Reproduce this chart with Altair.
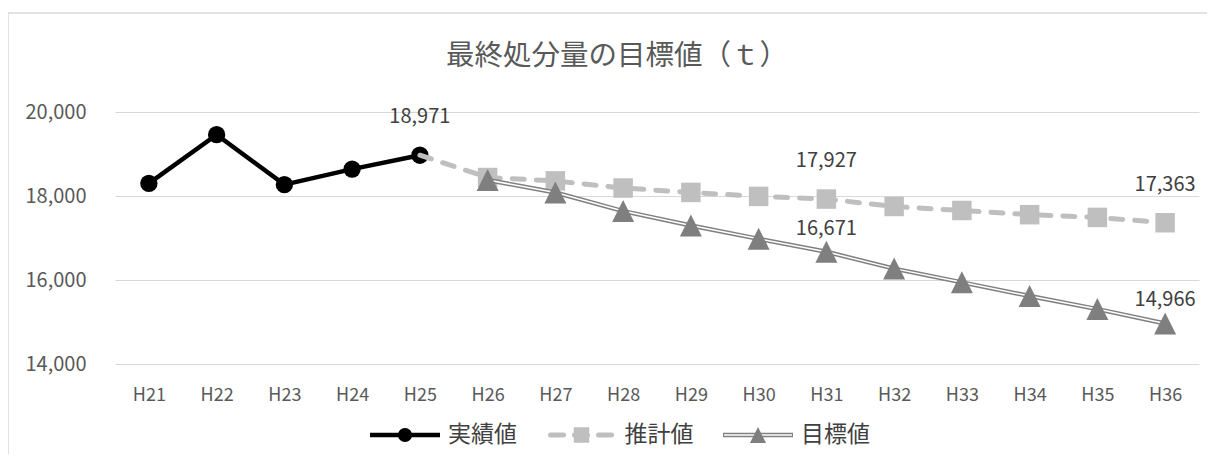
import altair as alt
import pandas as pd

# ---- data ----
CATEGORIES = ["H21", "H22", "H23", "H24", "H25", "H26", "H27", "H28",
              "H29", "H30", "H31", "H32", "H33", "H34", "H35", "H36"]
ACTUAL = [18300, 19460, 18270, 18640, 18971,
          None, None, None, None, None, None, None, None, None, None, None]
ESTIMATE = [None, None, None, None, 18971, 18440, 18360, 18190,
            18085, 17990, 17927, 17750, 17655, 17555, 17490, 17363]
TARGET = [None, None, None, None, None, 18381, 18083, 17641,
          17299, 16980, 16671, 16271, 15944, 15618, 15307, 14966]
SERIES_NAMES = ["実績値", "推計値", "目標値"]
LABELLED = [("実績値", "H25"), ("推計値", "H31"), ("推計値", "H36"),
            ("目標値", "H31"), ("目標値", "H36")]
Y_TICKS = [14000, 16000, 18000, 20000]
TITLE = "最終処分量の目標値（ｔ）"

# ---- layout / style ----
W, H = 1084, 252
FONT = "Noto Sans CJK JP"
TRI = "M0,-1L1,1L-1,1Z"


def series_df(name, values):
    return pd.DataFrame({"cat": CATEGORIES, "value": values, "series": name}).dropna()


act = series_df(SERIES_NAMES[0], ACTUAL)
est = series_df(SERIES_NAMES[1], ESTIMATE)
tgt = series_df(SERIES_NAMES[2], TARGET)
allpts = pd.concat([act, est, tgt])
lab = pd.concat([allpts[(allpts.series == s) & (allpts.cat == c)] for s, c in LABELLED])
lab_sq = lab[lab.series != SERIES_NAMES[2]]
lab_tri = lab[lab.series == SERIES_NAMES[2]]

x_enc = alt.X("cat:N", sort=CATEGORIES,
              scale=alt.Scale(type="point", domain=CATEGORIES, padding=0.5),
              axis=alt.Axis(title=None, labelFontSize=18, labelColor="#595959",
                            labelFont=FONT, labelPadding=22, ticks=False,
                            domain=False, grid=False, labelAngle=0))
y_enc = alt.Y("value:Q",
              scale=alt.Scale(domain=[14000, 20000], nice=False, zero=False),
              axis=alt.Axis(title=None, values=Y_TICKS, format=",d",
                            labelFontSize=20, labelColor="#595959", labelFont=FONT,
                            labelPadding=29, ticks=False, domain=False,
                            gridColor="#D9D9D9", gridWidth=1))

frame = alt.Chart(pd.DataFrame({"a": [0]})).mark_rect(
    fillOpacity=0, stroke="#D9D9D9", strokeWidth=1.5
).encode(x=alt.value(-107), x2=alt.value(1300), y=alt.value(-99), y2=alt.value(500))

act_line = alt.Chart(act).mark_line(color="black", strokeWidth=4.5).encode(x=x_enc, y=y_enc)
act_pts = alt.Chart(act).mark_point(filled=True, shape="circle", size=300,
                                    color="black", opacity=1).encode(x=x_enc, y=y_enc)
est_line = alt.Chart(est).mark_line(color="#BFBFBF", strokeWidth=5, strokeDash=[12, 12],
                                    strokeCap="round").encode(x=x_enc, y=y_enc)
est_pts = alt.Chart(est[est.cat != "H25"]).mark_point(
    filled=True, shape="square", size=380, color="#BFBFBF", opacity=1).encode(x=x_enc, y=y_enc)
tgt_outer = alt.Chart(tgt).mark_line(color="#808080", strokeWidth=4.5).encode(x=x_enc, y=y_enc)
tgt_inner = alt.Chart(tgt).mark_line(color="white", strokeWidth=1.5).encode(x=x_enc, y=y_enc)
tgt_pts = alt.Chart(tgt).mark_point(filled=True, shape=TRI, size=484,
                                    color="#7F7F7F", opacity=1).encode(x=x_enc, y=y_enc)
txt_sq = alt.Chart(lab_sq).mark_text(dy=-38, fontSize=20, font=FONT, color="#404040").encode(
    x=x_enc, y=y_enc, text=alt.Text("value:Q", format=",d"))
txt_tri = alt.Chart(lab_tri).mark_text(dy=-23, fontSize=20, font=FONT, color="#404040").encode(
    x=x_enc, y=y_enc, text=alt.Text("value:Q", format=",d"))

main = alt.layer(frame, act_line, act_pts, est_line, est_pts,
                 tgt_outer, tgt_inner, tgt_pts, txt_sq, txt_tri)

# ---- legend ----
leg = pd.DataFrame({"name": SERIES_NAMES})
lx = alt.X("name:N", sort=SERIES_NAMES,
           scale=alt.Scale(type="point", domain=SERIES_NAMES, range=[290, 643], padding=0),
           axis=None)
LY = alt.value(323)
base = alt.Chart(leg)


def only(i):
    return alt.datum.name == SERIES_NAMES[i]


l1 = base.transform_filter(only(0)).mark_rule(color="black", strokeWidth=4.5,
                                               xOffset=-35, x2Offset=35).encode(x=lx, x2=alt.X2("name"), y=LY)
l1p = base.transform_filter(only(0)).mark_point(filled=True, shape="circle", size=200,
                                                color="black", opacity=1).encode(x=lx, y=LY)
l2 = base.transform_filter(only(1)).mark_rule(color="#BFBFBF", strokeWidth=5, strokeDash=[13, 11],
                                               strokeCap="round", xOffset=-31, x2Offset=33).encode(x=lx, x2=alt.X2("name"), y=LY)
l2p = base.transform_filter(only(1)).mark_point(filled=True, shape="square", size=240,
                                                color="#BFBFBF", opacity=1).encode(x=lx, y=LY)
l3o = base.transform_filter(only(2)).mark_rule(color="#808080", strokeWidth=4.5,
                                                xOffset=-35, x2Offset=35).encode(x=lx, x2=alt.X2("name"), y=LY)
l3i = base.transform_filter(only(2)).mark_rule(color="white", strokeWidth=1.5,
                                                xOffset=-34, x2Offset=34).encode(x=lx, x2=alt.X2("name"), y=LY)
l3p = base.transform_filter(only(2)).mark_point(filled=True, shape=TRI, size=260,
                                                color="#7F7F7F", opacity=1).encode(x=lx, y=LY)
ltxt = base.mark_text(align="left", baseline="middle", dx=43, fontSize=23, font=FONT,
                      color="#404040").encode(x=lx, y=LY, text="name:N")

legend = alt.layer(l1, l1p, l2, l2p, l3o, l3i, l3p, ltxt)

chart = alt.layer(main, legend).resolve_scale(x="independent").properties(
    width=W, height=H,
    title=alt.TitleParams(text=TITLE, fontSize=28.5, font=FONT, color="#595959",
                          fontWeight="normal", anchor="middle", dx=-40,
                          baseline="bottom", offset=-87),
    padding={"left": 107, "top": 104, "right": 8, "bottom": 90},
    autosize=alt.AutoSizeParams(type="none"),
).configure_view(stroke=None)

chart.save("out.html", embed_options={"renderer": "svg", "actions": False})
